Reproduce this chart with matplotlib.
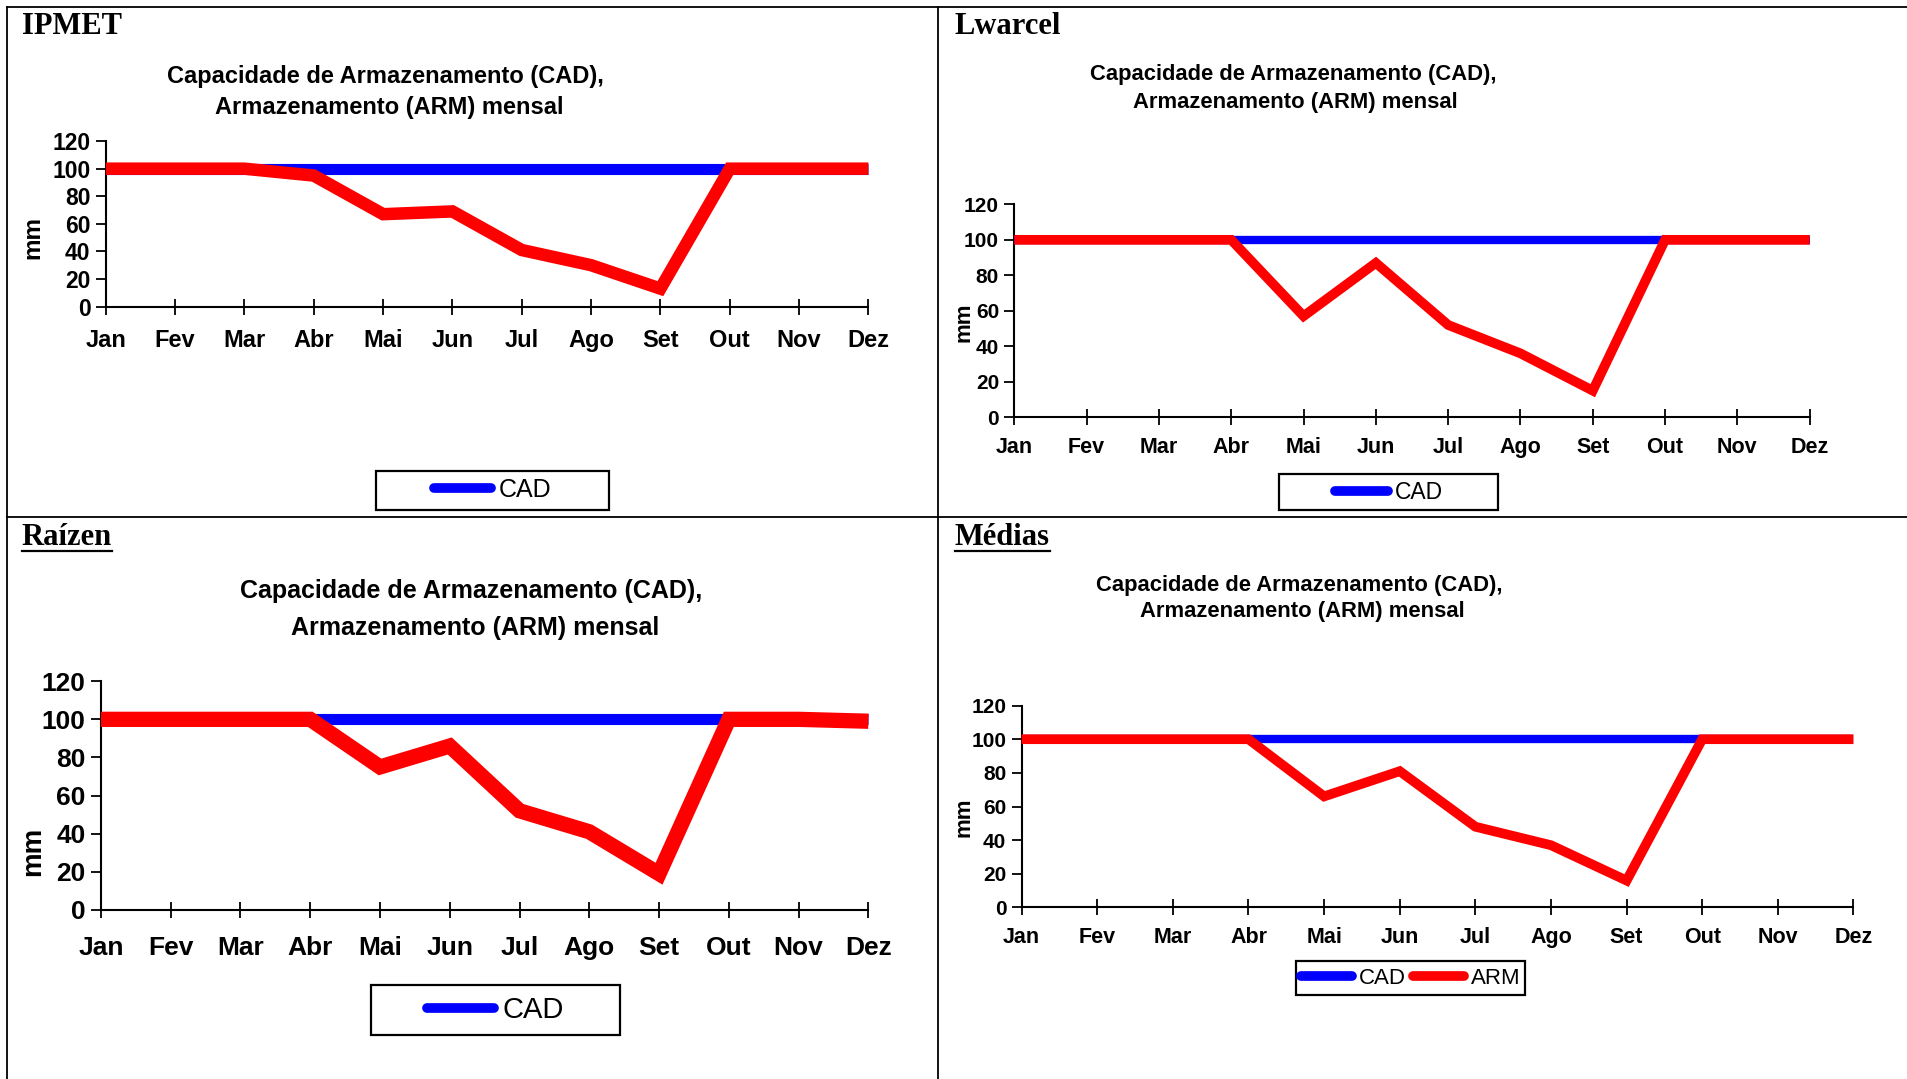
import numpy as np
import matplotlib
matplotlib.use("Agg")
import matplotlib.pyplot as plt
from matplotlib.lines import Line2D
from matplotlib.patches import Rectangle

meses = ['Jan', 'Fev', 'Mar', 'Abr', 'Mai', 'Jun', 'Jul', 'Ago', 'Set', 'Out', 'Nov', 'Dez']
yticks = [0, 20, 40, 60, 80, 100, 120]

cad = [100] * 12
arm_ipmet = [100, 100, 100, 95, 67, 69, 41, 30, 13, 100, 100, 100]
arm_lwarcel = [100, 100, 100, 100, 57, 87, 52, 36, 15, 100, 100, 100]
arm_raizen = [100, 100, 100, 100, 75, 86, 52, 41, 19, 100, 100, 99]
arm_medias = [100, 100, 100, 100, 66, 81, 48, 37, 16, 100, 100, 100]

titulo1 = 'Capacidade de Armazenamento (CAD),'
titulo2 = 'Armazenamento (ARM) mensal'

W, H = 1907, 1079
fig = plt.figure(figsize=(W / 100, H / 100), dpi=100)

# reference layout was measured on a 1568 x 887 view
def fx(x):
    return x / 1568

def fy(y):
    return 1 - y / 887

SANS = 'Liberation Sans'
SERIF = 'Liberation Serif'

# table borders
for seg in [((6, 1568), (6, 6)), ((6, 1568), (425, 425)),
            ((6, 6), (6, 887)), ((771, 771), (6, 887))]:
    fig.add_artist(Line2D([fx(seg[0][0]), fx(seg[0][1])],
                          [fy(seg[1][0]), fy(seg[1][1])],
                          color='black', lw=1.3))

renderer = fig.canvas.get_renderer()


def panel_label(x, y, txt, underline=False):
    t = fig.text(fx(x), fy(y), txt, fontfamily=SERIF, fontweight='bold',
                 fontsize=22, ha='left', va='center')
    if underline:
        bb = t.get_window_extent(renderer)
        yl = (bb.y0 + 1) / H
        fig.add_artist(Line2D([bb.x0 / W, bb.x1 / W], [yl, yl], color='black', lw=1.6))


def panel(box, arm, fs_title, fs_x, fs_y, xpad, tpos, lw_arm, lw_cad, ylab, leg_box, leg_items, fs_leg):
    x0, x1, ytop, ybot = box
    ax = fig.add_axes([fx(x0), fy(ybot), fx(x1) - fx(x0), fy(ytop) - fy(ybot)])
    xs = np.arange(12)
    ax.plot(xs, cad, color='#0000ff', lw=lw_cad, clip_on=False, solid_capstyle='butt', zorder=3)
    ax.plot(xs, arm, color='#ff0000', lw=lw_arm, clip_on=False, solid_capstyle='butt',
            solid_joinstyle='miter', zorder=4)
    ax.set_xlim(0, 11)
    ax.set_ylim(0, 120)
    ax.set_xticks(xs)
    ax.set_xticklabels(meses, fontfamily=SANS, fontweight='bold', fontsize=fs_x)
    ax.set_yticks(yticks)
    ax.set_yticklabels([str(v) for v in yticks], fontfamily=SANS, fontweight='bold', fontsize=fs_y)
    ax.tick_params(axis='x', direction='inout', length=12, width=1.3, pad=xpad)
    ax.tick_params(axis='y', direction='out', length=7, width=1.3, pad=4)
    for s in ['top', 'right']:
        ax.spines[s].set_visible(False)
    for s in ['left', 'bottom']:
        ax.spines[s].set_linewidth(1.5)
    ax.patch.set_alpha(0)

    cx, y1, cx2, y2 = tpos
    fig.text(fx(cx), fy(y1), titulo1, fontfamily=SANS, fontweight='bold', fontsize=fs_title,
             ha='center', va='center')
    fig.text(fx(cx2), fy(y2), titulo2, fontfamily=SANS, fontweight='bold', fontsize=fs_title,
             ha='center', va='center')

    fig.text(fx(ylab[0]), fy(ylab[1]), 'mm', fontfamily=SANS, fontweight='bold', fontsize=fs_y + 1,
             rotation=90, ha='center', va='center')

    lx0, lx1, ly0, ly1 = leg_box
    fig.add_artist(Rectangle((fx(lx0), fy(ly1)), fx(lx1) - fx(lx0), fy(ly0) - fy(ly1),
                             transform=fig.transFigure, fill=False, edgecolor='black', lw=1.6))
    handles = []
    for nome, cor in leg_items:
        handles.append(Line2D([], [], color=cor, lw=7, solid_capstyle='round', label=nome))
    fig.legend(handles=handles, loc='center', ncol=len(handles), frameon=False,
               bbox_to_anchor=(fx((lx0 + lx1) / 2), fy((ly0 + ly1) / 2)),
               bbox_transform=fig.transFigure, handlelength=2.3, handletextpad=0.3,
               columnspacing=0.3, prop={'family': SANS, 'size': fs_leg})
    return ax


panel_label(18, 22, 'IPMET')
panel_label(785, 22, 'Lwarcel')
panel_label(18, 442, 'Raízen', underline=True)
panel_label(785, 442, 'Médias', underline=True)

panel((87, 714, 116, 252), arm_ipmet, 17, 17, 16.5, 10, (317, 63, 320, 88), 9, 8,
      (27, 195), (309, 501, 387, 419), [('CAD', '#0000ff')], 18)
panel((834, 1488, 168, 343), arm_lwarcel, 15.8, 15.5, 15, 8, (1063, 61, 1065, 84), 7, 6,
      (793, 265), (1052, 1232, 390, 419), [('CAD', '#0000ff')], 16.5)
panel((83, 714, 560, 748), arm_raizen, 18, 19, 19, 13, (387, 486, 391, 516), 11, 8,
      (27, 700), (305, 510, 810, 851), [('CAD', '#0000ff')], 21)
panel((840, 1524, 580, 746), arm_medias, 15.8, 15.5, 15, 8, (1068, 481, 1071, 503), 7, 6,
      (793, 672), (1066, 1254, 790, 818), [('CAD', '#0000ff'), ('ARM', '#ff0000')], 16)

fig.savefig('out.png', dpi=100)
